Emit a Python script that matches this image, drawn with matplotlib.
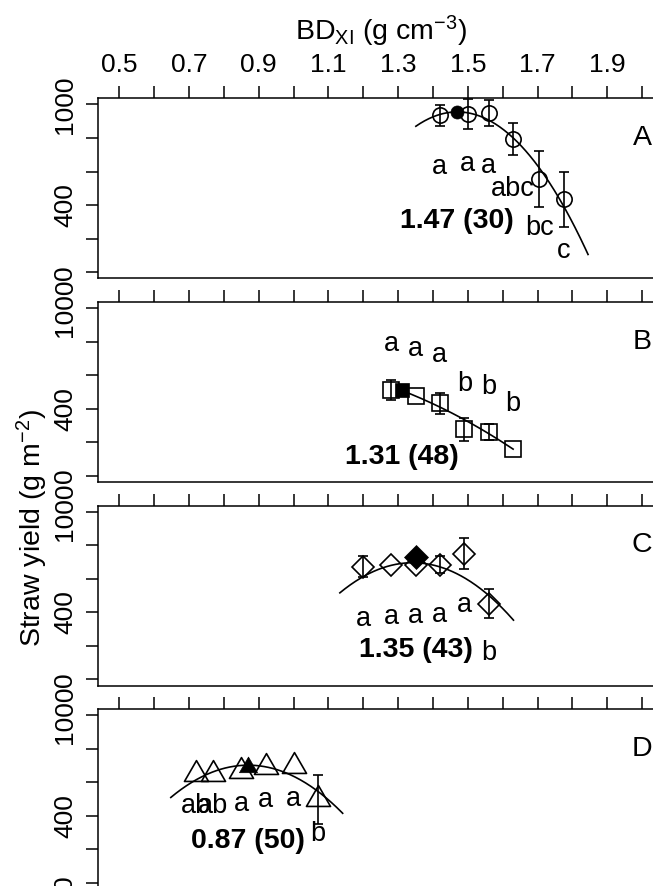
import numpy as np
import matplotlib
matplotlib.use("Agg")
import matplotlib.pyplot as plt
from matplotlib.path import Path

plt.rcParams['font.family'] = ['Liberation Sans', 'DejaVu Sans']
plt.rcParams['mathtext.fontset'] = 'custom'
plt.rcParams['mathtext.rm'] = 'Liberation Sans'
plt.rcParams['mathtext.it'] = 'Liberation Sans:italic'
plt.rcParams['mathtext.bf'] = 'Liberation Sans:bold'

# panel A (circles)
bd_a = [1.42, 1.50, 1.56, 1.63, 1.705, 1.775]
yield_a = [934, 944, 950, 794, 554, 434]
se_a = [60, 90, 77, 95, 167, 162]
letters_a = ['a', 'a', 'a', 'abc', 'bc', 'c']
letter_y_a = [629, 645, 633, 494, 262, 129]

# panel B (squares)
bd_b = [1.28, 1.35, 1.42, 1.49, 1.56, 1.63]
yield_b = [511, 475, 431, 277, 261, 158]
se_b = [60, 0, 64, 68, 50, 0]
letters_b = ['a', 'a', 'a', 'b', 'b', 'b']
letter_y_b = [783, 757, 717, 549, 530, 430]

# panel C (diamonds)
bd_c = [1.20, 1.28, 1.35, 1.42, 1.49, 1.56]
yield_c = [671, 680, 680, 684, 750, 452]
se_c = [62, 0, 0, 50, 91, 85]
letters_c = ['a', 'a', 'a', 'a', 'a', 'b']
letter_y_c = [363, 373, 377, 383, 442, 160]

# panel D (triangles)
bd_d = [0.72, 0.77, 0.85, 0.92, 1.00, 1.07]
yield_d = [647, 647, 666, 692, 700, 498]
se_d = [0, 0, 0, 0, 0, 144]
letters_d = ['ab', 'ab', 'a', 'a', 'a', 'b']
letter_y_d = [458, 458, 468, 492, 498, 295]

# optimum BD (filled symbol) and its label
panel_names = ['A', 'B', 'C', 'D']
opt_bd = [1.47, 1.31, 1.35, 0.87]
opt_yield = [954, 509, 730, 690]
opt_text = ['1.47 (30)', '1.31 (48)', '1.35 (43)', '0.87 (50)']
opt_text_y = [305, 110, 174, 250]

# fitted curves: y = c0 + c1*(x - opt) + c2*(x - opt)^2
fit_coef = [[955, 0, -6038], [509, -805, -900], [695, -64, -4100], [702, 0, -3900]]
fit_range = [[1.351, 1.845], [1.31, 1.63], [1.133, 1.631], [0.648, 1.141]]

tri = Path([(0, 1), (-0.866, -0.5), (0.866, -0.5), (0, 1)], closed=True)
markers = ['o', 's', 'D', tri]
open_ms = [11, 11, 10.7, 20]
fill_ms = [9.4, 9.6, 12.2, 15]

bds = [bd_a, bd_b, bd_c, bd_d]
yields = [yield_a, yield_b, yield_c, yield_d]
ses = [se_a, se_b, se_c, se_d]
letters = [letters_a, letters_b, letters_c, letters_d]
letter_ys = [letter_y_a, letter_y_b, letter_y_c, letter_y_d]

W, H = 653, 886
fig = plt.figure(figsize=(W / 100, H / 100), dpi=100)
fs_tick = 19
fs_lab = 20.5

left_px, right_px = 98.3, 663
for i in range(4):
    top = 98.3 + 203.6 * i
    ax = fig.add_axes([left_px / W, 1 - (top + 180) / H, (right_px - left_px) / W, 180 / H])
    ax.set_xlim(0.44, 2.06)
    ax.set_ylim(-36, 1036)

    c0, c1, c2 = fit_coef[i]
    xs = np.linspace(fit_range[i][0], fit_range[i][1], 200)
    ax.plot(xs, c0 + c1 * (xs - opt_bd[i]) + c2 * (xs - opt_bd[i]) ** 2, color='black', lw=1.2)

    x = np.array(bds[i])
    y = np.array(yields[i])
    e = np.array(ses[i])
    has = e > 0
    ax.errorbar(x[has], y[has], yerr=e[has], fmt='none', ecolor='black', elinewidth=1.2, capsize=3.6, capthick=1.2)
    ax.plot(x, y, linestyle='none', marker=markers[i], ms=open_ms[i], mfc='none', mec='black', mew=1.2)
    ax.plot([opt_bd[i]], [opt_yield[i]], linestyle='none', marker=markers[i], ms=fill_ms[i], mfc='black', mec='black', mew=0.5)

    for xx, lab, ly in zip(bds[i], letters[i], letter_ys[i]):
        ax.text(xx, ly, lab, ha='center', va='center', fontsize=fs_tick + 0.5)
    ax.text(opt_bd[i], opt_text_y[i], opt_text[i], ha='center', va='center', fontsize=fs_lab, fontweight='bold')
    ax.text(2.0, 800, panel_names[i], ha='center', va='center', fontsize=fs_lab)

    xt = np.round(np.arange(0.5, 2.01, 0.1), 1)
    ax.set_xticks(xt)
    ax.set_xticklabels([f'{t:.1f}' if k % 2 == 0 else '' for k, t in enumerate(xt)])
    ax.xaxis.tick_top()
    ax.tick_params(axis='x', direction='out', length=8.6, width=1.1, pad=6.5,
                   labelsize=fs_tick, labeltop=(i == 0), labelbottom=False, bottom=False)
    ax.set_yticks([0, 200, 400, 600, 800, 1000])
    ax.set_yticklabels(['0', '', '400', '', '', '1000'], rotation=90, va='center')
    ax.tick_params(axis='y', direction='out', length=8.6, width=1.1, pad=6.5, labelsize=fs_tick)
    for sp in ax.spines.values():
        sp.set_linewidth(1.1)

fig.text((left_px + right_px) / 2 / W, 1 - 40 / H, r'BD$_{\mathrm{XI}}$ (g cm$^{-3}$)',
         ha='center', va='baseline', fontsize=fs_lab)
fig.text(32 / W, 1 - 528 / H, r'Straw yield (g m$^{-2}$)', rotation=90,
         ha='center', va='center', fontsize=fs_lab)

fig.savefig('out.png', dpi=100)
